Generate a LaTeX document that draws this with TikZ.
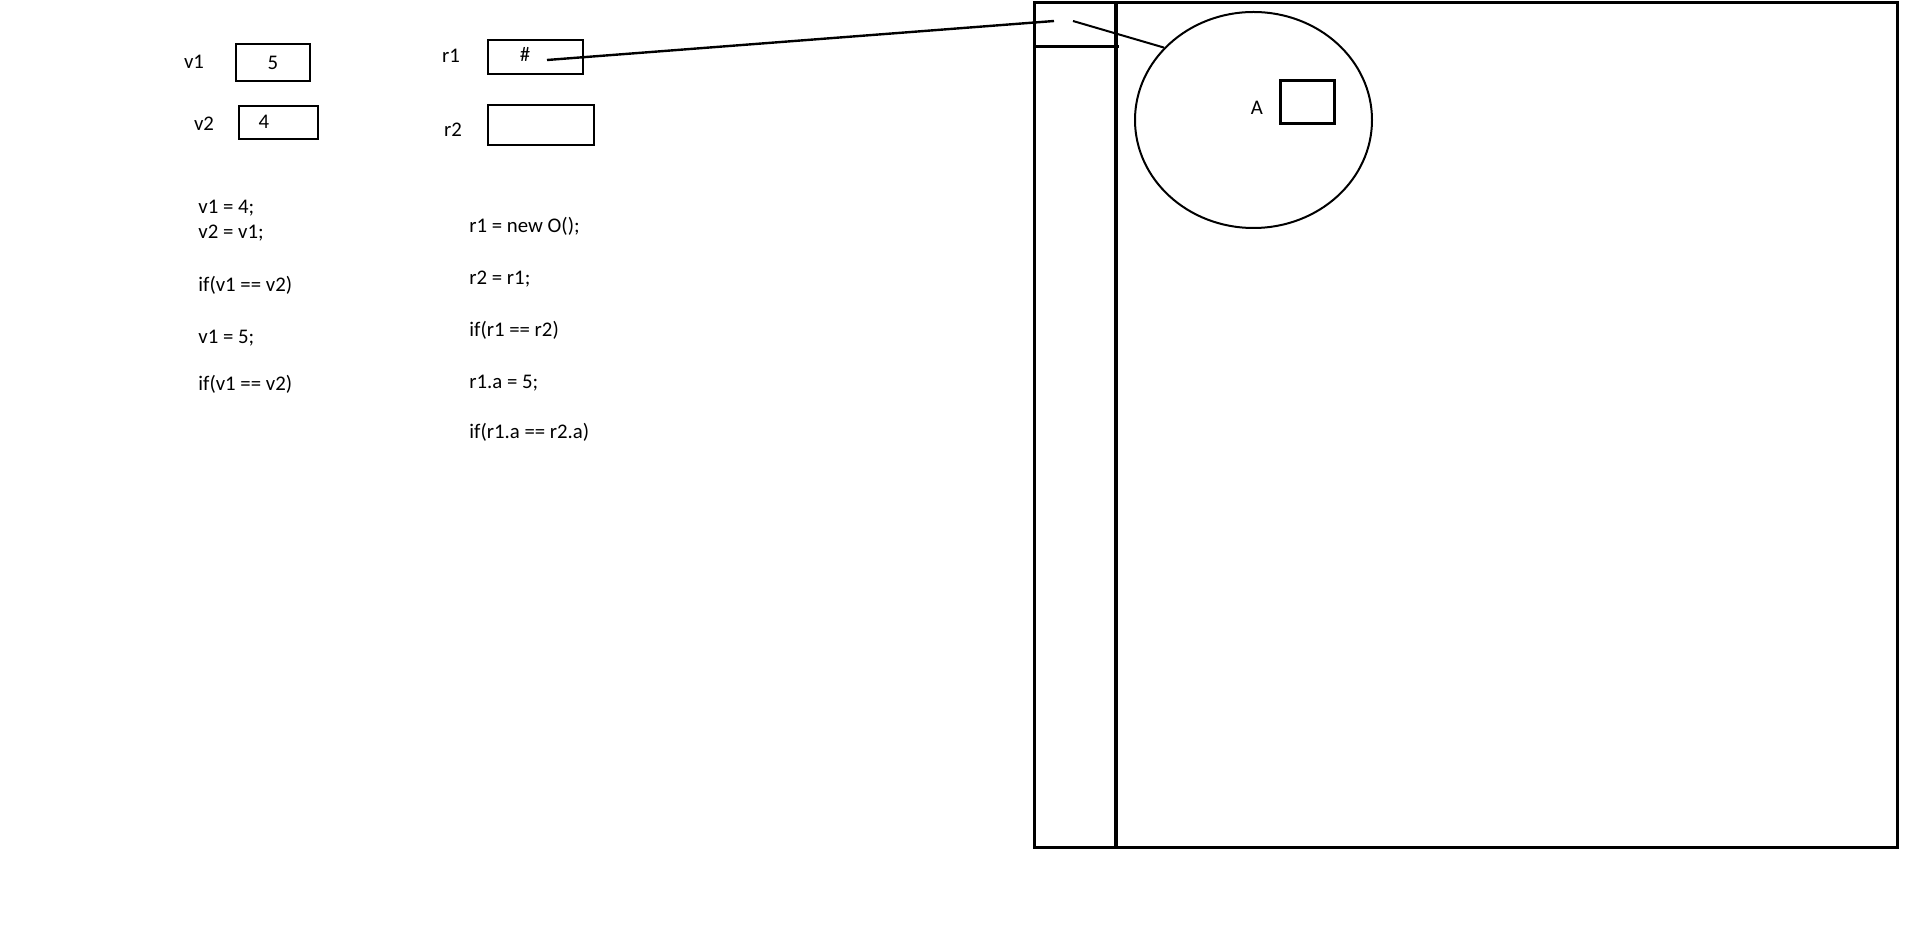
\documentclass[tikz,border=0pt]{standalone}
\usepackage{fontspec}
\setmainfont{Carlito}
\usetikzlibrary{shapes.geometric}
\tikzset{
  varbox/.style={draw,line width=0.6pt,inner sep=0pt},
  codeline/.style={anchor=base west,inner sep=0pt},
  heapline/.style={line width=1.5pt}
}

\begin{document}
\begin{tikzpicture}[x=0.5pt,y=-0.5pt,font=\fontsize{10.4}{12.5}\selectfont]
\useasboundingbox (0,0) rectangle (1913,935);
% value variables
\node (v1lab) at (194,62) {v1};
\node[varbox,minimum width=37pt,minimum height=18.5pt] (v1box) at (273,62.5) {5};
\node (v2lab) at (204,124) {v2};
\node[varbox,minimum width=39.5pt,minimum height=16.5pt] (v2box) at (278.5,122.5) {};
\node (v2val) at (264,122) {4};
% reference variables
\node (r1lab) at (451,56) {r1};
\node[varbox,minimum width=47.5pt,minimum height=17pt] (r1box) at (535.5,57) {};
\node (r1val) at (525,54) {\#};
\node (r2lab) at (453,130) {r2};
\node[varbox,minimum width=53pt,minimum height=20pt] (r2box) at (541,125) {};
% code, left column
\node[codeline] (c1) at (198,214) {v1 = 4;};
\node[codeline] (c2) at (198,239) {v2 = v1;};
\node[codeline] (c3) at (198,292) {if(v1 == v2)};
\node[codeline] (c4) at (198,344) {v1 = 5;};
\node[codeline] (c5) at (198,391) {if(v1 == v2)};
% code, right column
\node[codeline] (d1) at (469,233) {r1 = new O();};
\node[codeline] (d2) at (469,285) {r2 = r1;};
\node[codeline] (d3) at (469,337) {if(r1 == r2)};
\node[codeline] (d4) at (469,389) {r1.a = 5;};
\node[codeline] (d5) at (469,439) {if(r1.a == r2.a)};
% heap
\draw[heapline] (1034,3) rectangle (1897,847);
\draw[line width=2.2pt] (1116,3) -- (1116,847);
\draw[heapline] (1034,47) -- (1119,47);
\node[draw,ellipse,line width=1pt,inner sep=0pt,minimum width=118.5pt,minimum height=108pt] (obj) at (1253.5,120) {};
\node (alab) at (1257,108) {A};
\node[draw,line width=1.5pt,inner sep=0pt,minimum width=27pt,minimum height=21.5pt] (afield) at (1307,102.5) {};
% pointer
\coordinate (r1dot) at (547,60);
\coordinate (cellin) at (1054,21);
\coordinate (cellout) at (1073,21);
\draw[line width=1.2pt] (r1dot) -- (cellin);
\draw[line width=1pt] (cellout) -- (obj.141.7);
\end{tikzpicture}
\end{document}
